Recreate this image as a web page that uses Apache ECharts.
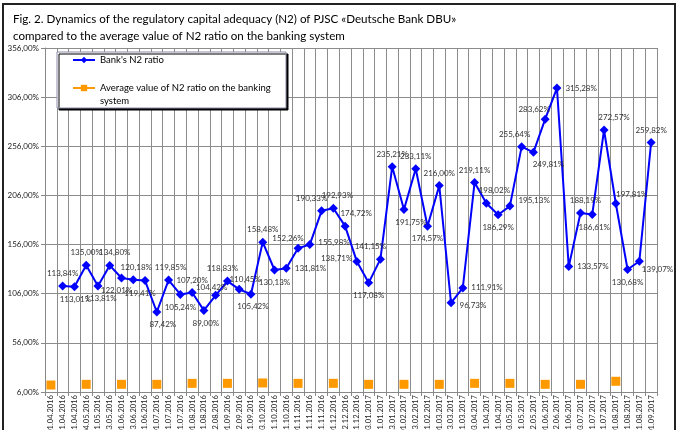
<!DOCTYPE html>
<html>
<head>
<meta charset="utf-8">
<script src="https://cdn.jsdelivr.net/npm/echarts@6/dist/echarts.min.js"></script>
<style>
  html,body{margin:0;padding:0;background:#fff}
  #chart{width:680px;height:430px}
</style>
</head>
<body>
<div id="chart"></div>
<script>
// categories (dekadal reporting dates)
var dates = ['01.04.2016','11.04.2016','21.04.2016','04.05.2016','11.05.2016','23.05.2016','01.06.2016','13.06.2016','21.06.2016',
  '01.07.2016','11.07.2016','21.07.2016','01.08.2016','11.08.2016','22.08.2016','01.09.2016','12.09.2016','21.09.2016',
  '03.10.2016','11.10.2016','21.10.2016','01.11.2016','11.11.2016','21.11.2016','01.12.2016','12.12.2016','21.12.2016',
  '03.01.2017','11.01.2017','23.01.2017','01.02.2017','13.02.2017','21.02.2017','01.03.2017','13.03.2017','21.03.2017',
  '03.04.2017','11.04.2017','21.04.2017','03.05.2017','11.05.2017','22.05.2017','01.06.2017','12.06.2017','21.06.2017',
  '03.07.2017','11.07.2017','21.07.2017','01.08.2017','11.08.2017','21.08.2017','01.09.2017']

// bank's N2 ratio, %
var bankN2 = [null,113.84,113.01,135.00,113.81,134.80,122.01,120.18,119.41,87.42,119.85,105.24,107.20,89.00,104.42,
  118.83,110.45,105.42,158.48,130.13,131.81,152.26,155.98,190.33,192.93,174.72,138.71,117.08,141.15,235.21,191.75,
  233.11,174.57,216.00,96.73,111.91,219.11,198.02,186.29,195.13,255.64,249.81,283.62,315.28,133.57,188.19,186.61,
  272.57,197.81,130.68,139.07,259.82]

// banking system average N2, monthly
var avgDates = ['01.04.2016','04.05.2016','01.06.2016','01.07.2016','01.08.2016','01.09.2016','03.10.2016','01.11.2016',
  '01.12.2016','03.01.2017','01.02.2017','01.03.2017','03.04.2017','03.05.2017','01.06.2017','03.07.2017','01.08.2017']
var avgValues = [13.1,13.8,13.8,13.8,14.8,14.8,15.2,14.8,14.8,13.8,13.8,13.8,14.8,14.8,13.8,13.8,16.9]

var bankName = "Bank's N2 ratio"
var avgName = 'Average value of N2 ratio on the banking system'

// y axis
var yMin = 6, yMax = 356, yStep = 50

// label placement for each bank point: [position, dx, dy]
var labelPos = [null,['top',0,0],['bottom',1,0],['top',0,0],['bottom',3,0],['top',5,0],['bottom',-5,0],['top',3,0],
  ['bottom',-5,0],['bottom',6,0],['top',2,0],['bottom',0,0],['top',0,0],['bottom',2,0],['top',-4,5],['top',-5,0],
  ['top',6,3],['bottom',2,0],['top',0,0],['bottom',0,0],['right',0,0],['top',-10,3],['right',0,-2],['top',-10,0],
  ['top',4,0],['top',11,0],['left',4,-3],['bottom',0,0],['top',-10,0],['top',0,0],['bottom',7,0],['top',0,0],
  ['bottom',0,0],['top',0,0],['right',0,3],['right',0,0],['top',0,0],['top',8,0],['bottom',0,0],['right',0,-6],
  ['top',-7,0],['bottom',15,0],['top',-11,3],['right',0,0],['right',0,0],['top',5,0],['bottom',2,0],['top',10,0],
  ['top',16,3],['bottom',0,0],['right',-6,8],['top',0,0]]

var fmt = function (v) { return v.toFixed(2).replace('.', ',') + '%' }

var bankData = bankN2.map(function (v, i) {
  if (v == null) return null
  var p = labelPos[i]
  return {value: v, label: {position: p[0], offset: [p[1], p[2]]}}
})
var avgData = dates.map(function (d) {
  var k = avgDates.indexOf(d)
  return k < 0 ? null : avgValues[k]
})

var chart = echarts.init(document.getElementById('chart'))
chart.setOption({
  animation: false,
  backgroundColor: '#fff',
  textStyle: {fontFamily: 'Lato, "Open Sans", sans-serif'},
  title: {
    text: 'Fig. 2. Dynamics of the regulatory capital adequacy (N2) of PJSC «Deutsche Bank DBU»\ncompared to the average value of N2 ratio on the banking system',
    left: 8, top: 6,
    textStyle: {fontSize: 11.6, fontWeight: 'normal', color: '#000', lineHeight: 17}
  },
  graphic: [
    {type: 'rect', shape: {x: 57, y: 52, width: 229, height: 56},
      style: {fill: '#fff', stroke: '#8a8aa8', lineWidth: 1, shadowColor: '#000', shadowOffsetX: 2, shadowOffsetY: 2}, z: 5},
    {type: 'rect', shape: {x: 3, y: 4, width: 672, height: 430}, style: {fill: 'none', stroke: '#222', lineWidth: 2}, z: 10}
  ],
  legend: {
    orient: 'vertical', left: 72, top: 53.5, padding: 0, itemGap: 2, itemWidth: 22, itemHeight: 8, z: 6,
    textStyle: {fontSize: 9.5, color: '#000', lineHeight: 13},
    data: [bankName, avgName],
    formatter: function (name) {
      return name === avgName ? '\nAverage value of N2 ratio on the banking\nsystem' : name
    }
  },
  grid: {left: 45, right: 23, top: 48, bottom: 38, outerBoundsMode: 'none'},
  xAxis: {
    type: 'category', data: dates, boundaryGap: true,
    axisLine: {lineStyle: {color: '#888'}},
    axisTick: {show: true, length: 4, lineStyle: {color: '#888'}},
    axisLabel: {rotate: 90, fontSize: 7.6, color: '#222', interval: 0, margin: 3},
    splitLine: {show: true, interval: 0, lineStyle: {color: '#8c8c8c', width: 1}}
  },
  yAxis: {
    type: 'value', min: yMin, max: yMax, interval: yStep,
    axisLine: {show: true, lineStyle: {color: '#888'}},
    axisTick: {show: true, length: 4, lineStyle: {color: '#888'}},
    axisLabel: {fontSize: 8, color: '#222', margin: 6, formatter: fmt},
    splitLine: {lineStyle: {color: '#8c8c8c', width: 1}}
  },
  series: [
    {
      name: bankName, type: 'line', data: bankData, connectNulls: false,
      symbol: 'diamond', symbolSize: 9, color: '#0000ff',
      lineStyle: {width: 2, color: '#0000ff'},
      label: {show: true, fontSize: 8, color: '#333', distance: 4,
        formatter: function (p) { return fmt(p.value) }},
      z: 3
    },
    {
      name: avgName, type: 'line', data: avgData, connectNulls: false,
      symbol: 'rect', symbolSize: 9, color: '#ff9900',
      lineStyle: {width: 2, color: '#ff9900'},
      z: 2
    }
  ]
})
</script>
</body>
</html>
